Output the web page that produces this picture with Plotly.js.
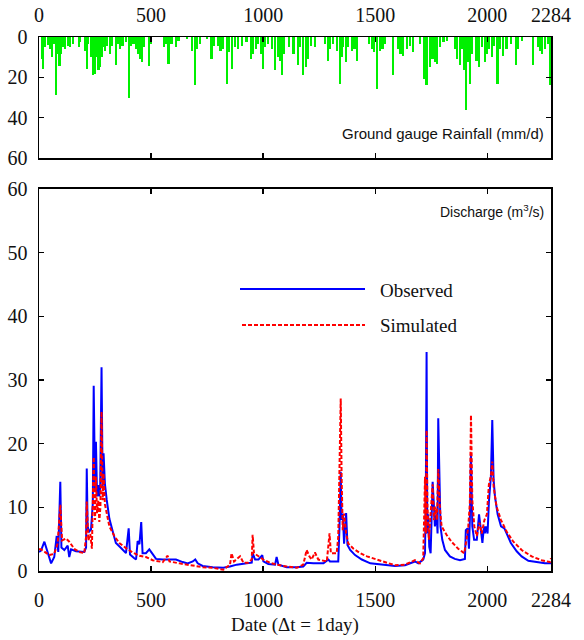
<!DOCTYPE html>
<html>
<head>
<meta charset="utf-8">
<script src="https://cdn.plot.ly/plotly-3.0.1.min.js"></script>
<style>html,body{margin:0;padding:0;background:#fff;}#chart{width:584px;height:640px;}</style>
</head>
<body>
<div id="chart"></div>
<script>
// Rainfall (mm/d) bars: day index and depth
const rainDay = [13,19,27,39,49,58,69,76,83,91,98,106,117,128,138,150,177,184,207,213,220,232,242,248,257,265,272,279,287,296,304,317,326,343,351,361,373,388,400,410,422,433,440,451,459,470,489,500,559,566,578,591,610,622,659,681,696,706,718,748,770,782,800,810,822,839,849,860,875,889,907,926,945,956,967,978,993,998,1008,1023,1038,1053,1065,1075,1083,1094,1115,1135,1154,1164,1179,1190,1201,1213,1231,1276,1288,1298,1313,1328,1343,1350,1357,1368,1380,1395,1407,1420,1472,1484,1494,1509,1521,1532,1543,1578,1603,1613,1625,1640,1655,1670,1700,1719,1729,1744,1755,1767,1777,1789,1804,1819,1856,1863,1878,1888,1897,1905,1912,1922,1930,1952,1963,1975,1990,2000,2009,2020,2031,2045,2056,2071,2086,2105,2127,2138,2153,2205,2225,2235,2245,2257,2269,2279];
const rainMm = [10.9,15.8,5,4,6,10,3.5,29,8.4,14.5,8.4,5,6,4.3,5,3.5,5,2.6,6.7,15.8,3.5,10,19,18.3,10,16.6,15,10,5,6.7,4.3,8.4,4.3,14.1,3.5,6,4.3,2.6,30.3,4.3,3.5,6,8.4,10.9,12.5,5,14.5,3.5,5,3.5,13.3,3.5,5,1.8,1,6.7,24,6,3.5,1,10.9,4.3,4.3,6.7,6,23.2,7.6,15.8,5,6,4.3,2.6,10.9,8.4,6,3.5,8.4,15.8,5,3.5,6,16.6,10,11.7,19,8.4,5,8.4,14.1,5,19,15,10.9,4.3,5,3.5,11.7,6,3.5,6.7,23.2,10,5,12.5,5,6.7,6,11.7,3.5,6,7.6,25.7,6.7,6,3.5,19,6,8.4,9.2,6,4.3,7.6,3.5,20.7,24,15,10.9,12.5,13.3,5,2.6,1.8,6,10.9,14.1,6,16.6,36.4,12.5,23.2,8.4,11.7,15,5,12.5,8.4,6,10,4.3,23.2,6,9.2,6,3.5,14.1,6,1.8,14.1,5,6.7,8.4,6,3.5,24];

// Observed discharge (m3/s)
const obsDay = [0,9,24,39,54,68,79,86,95,100,113,128,135,143,165,202,210,213,217,224,232,240,244,250,254,259,265,269,273,279,284,288,294,302,314,329,343,366,388,400,406,425,433,440,448,456,462,477,492,504,522,552,582,611,641,663,686,697,708,730,775,822,852,882,927,949,953,964,979,996,1001,1023,1053,1060,1068,1105,1150,1179,1194,1224,1269,1291,1298,1335,1340,1346,1350,1355,1361,1370,1376,1388,1410,1440,1478,1522,1588,1633,1677,1692,1714,1722,1726,1729,1732,1736,1741,1747,1751,1756,1762,1766,1774,1778,1781,1786,1791,1799,1811,1833,1855,1878,1900,1904,1912,1918,1922,1927,1933,1941,1953,1963,1970,1978,1985,1989,1994,2001,2007,2012,2016,2022,2028,2034,2046,2061,2076,2086,2105,2131,2153,2183,2228,2257,2284];
const obsQ = [3.0,3.2,4.6,3.0,1.2,2.2,5.5,3.0,14.0,3.7,3.3,4.0,2.2,3.4,3.1,3.0,3.7,16.1,7.0,6.2,6.5,10.6,29.1,12.6,20.3,11.7,13.5,11.7,13.3,32.0,13.3,18.5,13.7,11.2,8.2,6.2,4.4,3.6,2.8,6.7,2.6,2.0,1.8,4.7,4.2,7.7,2.8,2.8,3.4,2.8,1.9,1.8,1.8,1.8,1.4,1.2,1.5,1.8,1.2,0.8,0.6,0.5,0.7,1.0,1.2,1.3,2.8,1.8,1.8,2.5,1.5,1.1,1.0,2.2,1.0,0.6,0.6,0.7,1.3,1.2,1.2,1.8,1.5,1.5,6.4,15.6,8.0,9.0,4.3,9.1,4.1,3.3,2.5,1.8,1.2,1.0,0.8,0.9,1.5,1.2,1.8,2.8,14.3,34.4,5.9,8.9,3.8,2.8,8.0,14.0,10.1,7.0,8.9,5.9,24.0,13.3,7.0,4.9,3.3,2.3,1.9,1.7,1.9,6.4,6.7,3.5,8.0,18.5,7.0,4.9,4.9,8.9,7.0,4.4,7.0,5.9,7.0,5.9,10.9,14.0,14.9,23.7,14.3,11.7,8.9,7.0,6.7,5.9,4.4,3.1,2.3,1.6,1.3,1.2,1.2];

// Simulated discharge (m3/s)
const simDay = [0,9,46,68,83,95,103,121,135,157,179,202,210,213,220,229,236,244,250,254,259,265,269,274,279,284,288,294,302,314,336,358,388,418,448,477,507,552,574,582,626,670,730,775,822,852,859,870,897,912,934,949,953,959,971,1001,1031,1060,1105,1150,1179,1194,1206,1216,1231,1246,1284,1296,1302,1328,1335,1346,1350,1355,1361,1370,1380,1403,1433,1463,1507,1552,1588,1633,1677,1699,1714,1722,1726,1729,1733,1739,1747,1756,1762,1769,1775,1781,1788,1796,1818,1840,1870,1897,1907,1915,1922,1927,1933,1942,1953,1965,1975,1987,1998,2007,2016,2022,2028,2041,2061,2086,2116,2153,2198,2242,2279,2284];
const simQ = [3.4,3.4,2.5,2.7,4.3,10.4,4.8,5.1,4.6,3.5,3.0,2.8,5.4,10.9,4.8,5.8,3.5,17.9,8.0,14.8,9.1,11.1,7.7,10.1,25.0,11.1,15.3,10.5,9.1,7.0,5.5,4.4,3.6,2.9,2.4,2.2,1.7,1.4,2.4,1.5,1.2,0.9,0.6,0.5,0.2,1.0,2.8,1.5,2.3,1.3,1.3,1.8,5.7,2.8,2.5,1.8,1.3,1.0,0.7,0.5,1.0,3.3,2.3,1.8,2.9,1.8,1.5,5.9,2.8,2.8,5.4,27.1,14.7,6.4,9.0,5.9,4.3,3.5,2.8,2.3,1.8,1.3,0.9,1.0,1.7,1.2,2.0,14.8,5.9,22.1,10.1,4.9,8.9,13.6,8.0,10.1,8.0,16.0,10.1,7.0,5.7,4.6,3.5,2.8,4.9,7.0,10.6,24.5,11.1,7.0,5.5,7.6,5.9,8.0,8.9,13.6,14.9,17.2,13.3,10.1,8.0,6.2,4.6,3.3,2.3,1.7,1.4,2.0];

const xTicks = [0,500,1000,1500,2000,2284];
const xTickText = ['0','500','1000','1500','2000','2284'];
const rainTicks = [0,20,40,60];
const qTicks = [0,10,20,30,40,50,60];

const serif = 'Liberation Serif, Times New Roman, serif';
const sans = 'Liberation Sans, Arial, sans-serif';

const traces = [
  {type:'bar', x: rainDay, y: rainMm, xaxis:'x2', yaxis:'y2',
   marker:{color:'#00f000', line:{width:0}}, width: 10, showlegend:false, hoverinfo:'skip'},
  {type:'scatter', mode:'lines', x: obsDay, y: obsQ, name:'Observed',
   line:{color:'#0000ff', width:2}, showlegend:false},
  {type:'scatter', mode:'lines', x: simDay, y: simQ, name:'Simulated',
   line:{color:'#ff0000', width:2, dash:'4px,2px'}, showlegend:false}
];

const axCommon = {
  showline:true, mirror:'ticks', linecolor:'#000', linewidth:1.5,
  ticks:'inside', ticklen:5, tickwidth:1.5, tickcolor:'#000',
  showgrid:false, zeroline:false,
  tickfont:{family:serif, size:20, color:'#111'}
};

const px = v => (v - 39) / 512;
const py = v => (571 - v) / 534;

const layout = {
  width:584, height:640,
  margin:{l:39, r:33, t:37, b:69},
  paper_bgcolor:'#fff', plot_bgcolor:'#fff',
  bargap:0,
  xaxis: Object.assign({}, axCommon, {anchor:'y', range:[0,2284], tickvals:xTicks, ticktext:xTickText,
    ticklabelstandoff:10,
    title:{text:'Date (\u0394t = 1day)', font:{family:serif, size:19, color:'#111'}, standoff:8}}),
  yaxis: Object.assign({}, axCommon, {domain:[0,0.7154], range:[0,60], tickvals:qTicks, ticklabelstandoff:6}),
  xaxis2: Object.assign({}, axCommon, {anchor:'y2', side:'top', range:[0,2284], tickvals:xTicks, ticktext:xTickText,
    ticklabelstandoff:6}),
  yaxis2: Object.assign({}, axCommon, {domain:[0.7734,1], range:[60,0], tickvals:rainTicks, anchor:'x2', ticklabelstandoff:6}),
  shapes:[
    {type:'line', xref:'paper', yref:'paper', x0:px(240), x1:px(365), y0:py(289), y1:py(289),
     line:{color:'#0000ff', width:2}},
    {type:'line', xref:'paper', yref:'paper', x0:px(242), x1:px(365), y0:py(325), y1:py(325),
     line:{color:'#ff0000', width:2, dash:'4px,2px'}}
  ],
  annotations:[
    {xref:'paper', yref:'paper', x:px(378), y:py(290), xanchor:'left', yanchor:'middle', showarrow:false,
     text:'Observed', font:{family:serif, size:19, color:'#111'}},
    {xref:'paper', yref:'paper', x:px(378), y:py(325), xanchor:'left', yanchor:'middle', showarrow:false,
     text:'Simulated', font:{family:serif, size:19, color:'#111'}},
    {xref:'paper', yref:'paper', x:px(546), y:py(133), xanchor:'right', yanchor:'middle', showarrow:false,
     text:'Ground gauge Rainfall (mm/d)', font:{family:sans, size:15, color:'#111'}},
    {xref:'paper', yref:'paper', x:px(546), y:py(211), xanchor:'right', yanchor:'middle', showarrow:false,
     text:'Discharge (m<sup>3</sup>/s)', font:{family:sans, size:14, color:'#111'}}
  ]
};

Plotly.newPlot('chart', traces, layout, {displayModeBar:false, staticPlot:true});
</script>
</body>
</html>
